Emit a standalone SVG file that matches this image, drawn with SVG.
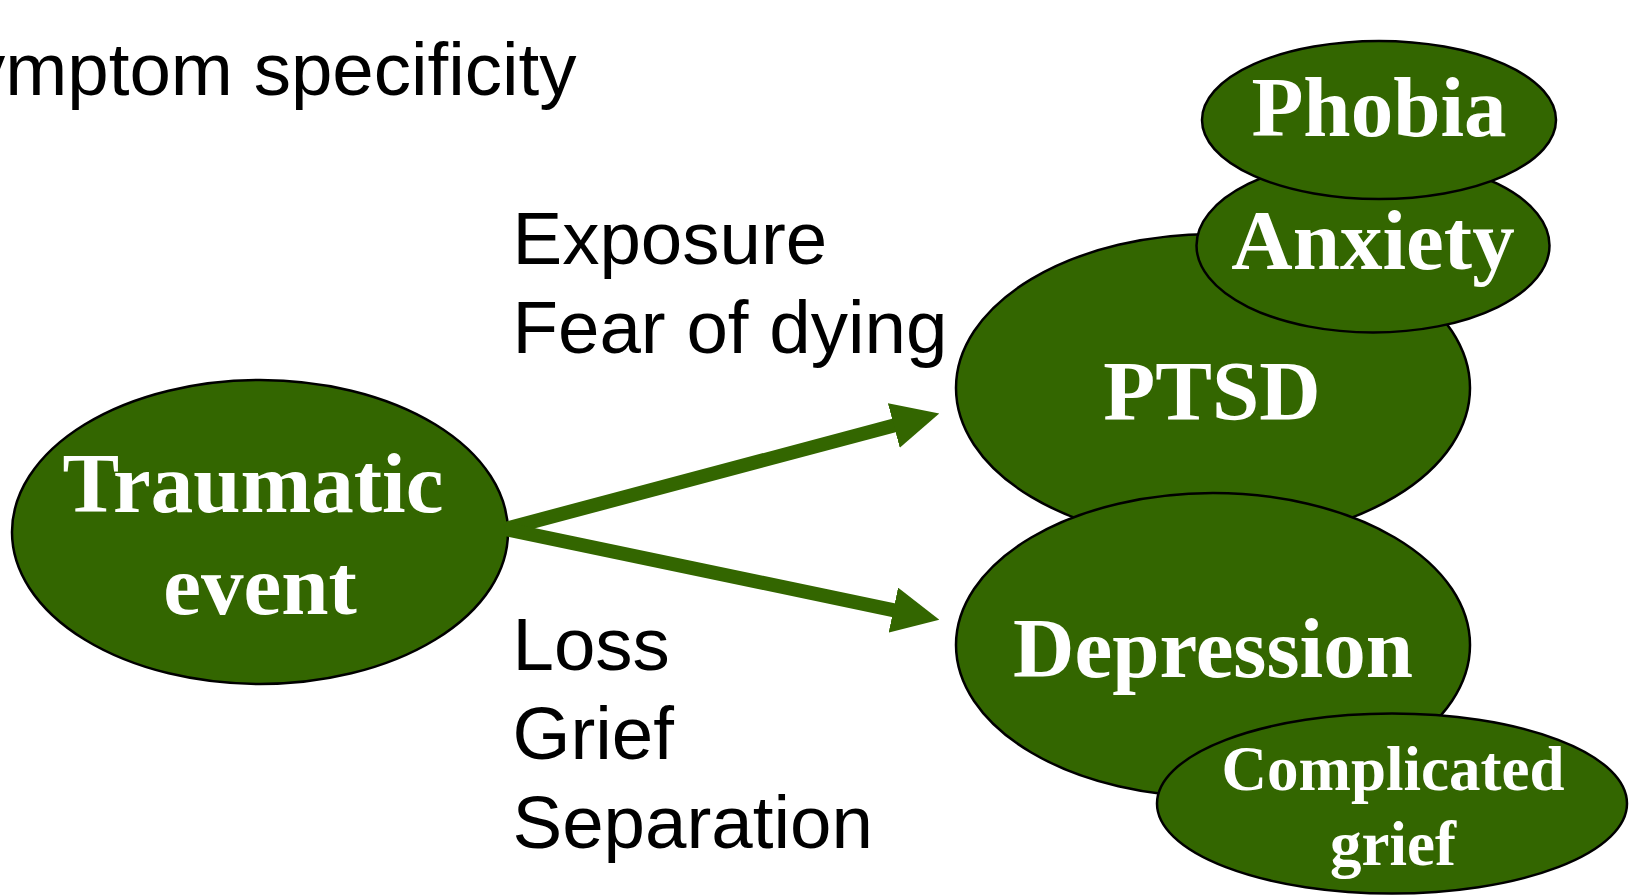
<svg xmlns="http://www.w3.org/2000/svg" width="1633" height="896" viewBox="0 0 1633 896">
  <style>
    .node { fill: #336600; stroke: #000; stroke-width: 2.5; }
    .lbl { font-family: "Liberation Serif", "Times New Roman", serif; font-weight: bold; fill: #fff; text-anchor: middle; }
    .plain { font-family: "Liberation Sans", Arial, sans-serif; fill: #000; font-size: 74.5px; }
    .edge { stroke: #336600; stroke-width: 14; fill: none; }
  </style>
  <defs>
    <marker id="head" viewBox="0 0 47 46" refX="1" refY="23" markerWidth="47" markerHeight="46" markerUnits="userSpaceOnUse" orient="auto">
      <path d="M0,0 L47,23 L0,46 Z" fill="#336600"/>
    </marker>
  </defs>
  <rect width="1633" height="896" fill="#fff"/>

  <text class="plain" x="-32" y="95" font-size="76">ymptom specificity</text>

  <g id="traumatic">
    <ellipse class="node" cx="260" cy="532" rx="248" ry="152"/>
    <text class="lbl" font-size="85" x="253" y="512">Traumatic</text>
    <text class="lbl" font-size="85" x="260" y="614">event</text>
  </g>

  <g id="connectors">
    <line class="edge" x1="505" y1="529" x2="894.8" y2="425.3" marker-end="url(#head)"/>
    <line class="edge" x1="505" y1="529" x2="894.3" y2="610.3" marker-end="url(#head)"/>
  </g>

  <g id="edge-labels">
    <text class="plain" x="512.5" y="264">Exposure</text>
    <text class="plain" x="512.5" y="352.7">Fear of dying</text>
    <text class="plain" x="512.5" y="670">Loss</text>
    <text class="plain" x="512.5" y="759">Grief</text>
    <text class="plain" x="512.5" y="848">Separation</text>
  </g>

  <g id="ptsd">
    <ellipse class="node" cx="1213" cy="388" rx="257" ry="154"/>
    <text class="lbl" font-size="85" x="1212" y="420">PTSD</text>
  </g>

  <g id="depression">
    <ellipse class="node" cx="1213" cy="645" rx="257" ry="152"/>
    <text class="lbl" font-size="85" x="1213" y="677">Depression</text>
  </g>

  <g id="anxiety">
    <ellipse class="node" cx="1373" cy="245.5" rx="176.5" ry="87"/>
    <text class="lbl" font-size="85" x="1373" y="269">Anxiety</text>
  </g>

  <g id="phobia">
    <ellipse class="node" cx="1379" cy="120" rx="177" ry="79"/>
    <text class="lbl" font-size="85" x="1379" y="136">Phobia</text>
  </g>

  <g id="complicated-grief">
    <ellipse class="node" cx="1392" cy="803.5" rx="235" ry="90"/>
    <text class="lbl" font-size="63" x="1393" y="790">Complicated</text>
    <text class="lbl" font-size="63" x="1393" y="865">grief</text>
  </g>
</svg>
